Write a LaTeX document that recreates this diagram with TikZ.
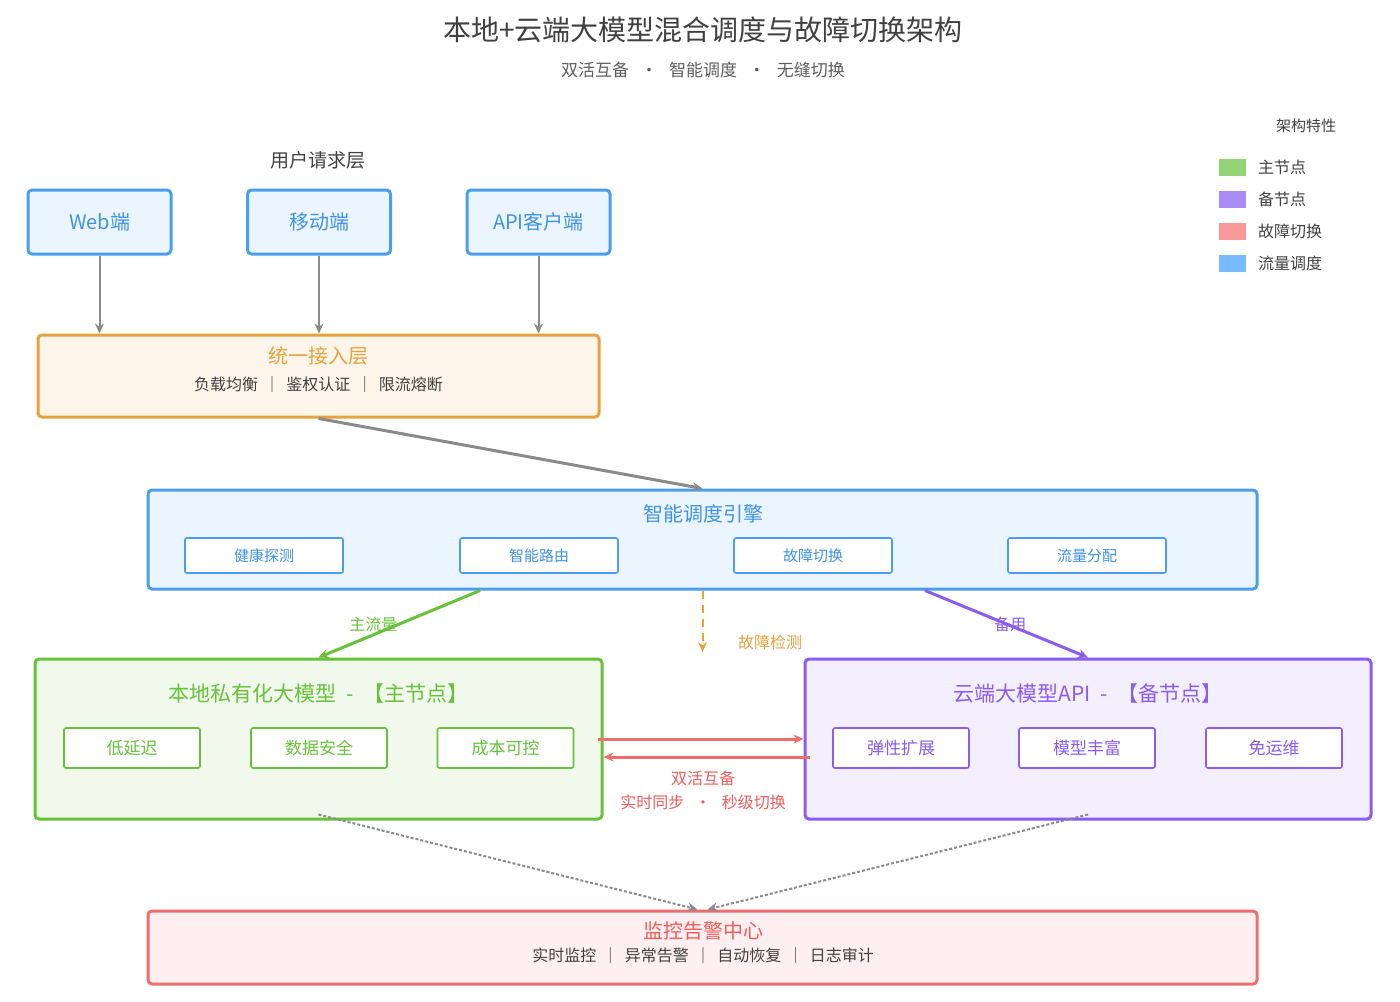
\documentclass[tikz,border=0pt]{standalone}
\usepackage{fontspec}
\newfontfamily\cjk{Noto Sans CJK SC}
\usetikzlibrary{calc,arrows.meta}
\definecolor{blueline}{RGB}{74,158,236}
\definecolor{bluefill}{RGB}{235,245,255}
\definecolor{bluetext}{RGB}{64,146,226}
\definecolor{orangeline}{RGB}{230,162,60}
\definecolor{orangefill}{RGB}{253,245,234}
\definecolor{greenline}{RGB}{103,194,58}
\definecolor{greenfill}{RGB}{240,249,235}
\definecolor{purpleline}{RGB}{138,92,240}
\definecolor{purplefill}{RGB}{244,239,255}
\definecolor{redline}{RGB}{238,110,110}
\definecolor{redfill}{RGB}{254,240,240}
\definecolor{redtext}{RGB}{240,92,92}
\definecolor{arrowgray}{RGB}{138,138,138}
\definecolor{darktext}{RGB}{64,64,64}
\tikzset{
  layer/.style={line width=1.5pt, rounded corners=2pt, inner sep=0pt},
  client/.style={layer, draw=blueline, fill=bluefill, minimum width=71.5pt, minimum height=32pt,
    text=bluetext, font=\cjk\fontsize{10}{12}\selectfont},
  item/.style={line width=0.8pt, rounded corners=1pt, fill=white, inner sep=0pt},
  headline/.style={font=\cjk\fontsize{10}{12}\selectfont},
  modelhead/.style={font=\cjk\fontsize{10.5}{12}\selectfont},
  subline/.style={font=\cjk\fontsize{8}{10}\selectfont, text=darktext},
  flow/.style={->, arrowgray, line width=1pt},
  swatch/.style={minimum width=13.5pt, minimum height=8.5pt, inner sep=0pt},
  keytext/.style={anchor=west, font=\cjk\fontsize{8}{10}\selectfont, text=darktext}
}
\begin{document}
\begin{tikzpicture}[x=0.5pt, y=-0.5pt, >={Stealth[length=5pt,width=4.5pt]}]
\useasboundingbox (0,0) rectangle (1400,1001);
% title
\node[font=\cjk\fontsize{14}{16}\selectfont, text=darktext] (title) at (703,30) {本地+云端大模型混合调度与故障切换架构};
\node[font=\cjk\fontsize{8.5}{10}\selectfont, text=darktext!85] (subtitle) at (703,70) {双活互备 \ \ · \ \ 智能调度 \ \ · \ \ 无缝切换};
% legend
\node[font=\cjk\fontsize{7.5}{9}\selectfont, text=darktext] (keyhead) at (1306,126) {架构特性};
\node[swatch, fill={rgb,255:red,149;green,212;blue,117}] (keymain) at (1232.5,167.5) {};
\node[keytext] at (1251,167.5) {主节点};
\node[swatch, fill={rgb,255:red,169;green,139;blue,245}] (keyback) at (1232.5,199.5) {};
\node[keytext] at (1251,199.5) {备节点};
\node[swatch, fill={rgb,255:red,248;green,152;blue,152}] (keyfail) at (1232.5,231) {};
\node[keytext] at (1251,231) {故障切换};
\node[swatch, fill={rgb,255:red,121;green,187;blue,255}] (keyflow) at (1232.5,263) {};
\node[keytext] at (1251,263) {流量调度};
% user request layer
\node[font=\cjk\fontsize{9.5}{11}\selectfont, text=darktext] (userhead) at (318,160) {用户请求层};
\node[client] (web) at (99.5,222) {Web端};
\node[client] (mobile) at (319,222) {移动端};
\node[client] (api) at (538.5,222) {API客户端};
% access layer
\node[layer, draw=orangeline, fill=orangefill, minimum width=280.5pt, minimum height=41pt] (access) at (318.5,376) {};
\node[headline, text=orangeline] (accesshead) at (318.5,356) {统一接入层};
\node[subline] (accesssub) at (318.5,384) {负载均衡 \,｜\, 鉴权认证 \,｜\, 限流熔断};
\draw[flow] (web.south) -- (web.south |- access.north);
\draw[flow] (mobile.south) -- (mobile.south |- access.north);
\draw[flow] (api.south) -- (api.south |- access.north);
% scheduling engine
\node[layer, draw=blueline, fill=bluefill, minimum width=554.5pt, minimum height=49.5pt] (engine) at (702.5,539.5) {};
\node[headline, text=bluetext] (enginehead) at (703,514) {智能调度引擎};
\foreach \x/\name/\txt in {264/probe/健康探测, 539/route/智能路由, 813/switch/故障切换, 1087/share/流量分配}
  \node[item, draw=blueline, minimum width=79pt, minimum height=17.5pt, text=bluetext,
    font=\cjk\fontsize{7.5}{9}\selectfont] (\name) at (\x,555.5) {\txt};
\draw[flow, line width=1.5pt] (access.south) -- (engine.north);
% local model (main node)
\node[layer, draw=greenline, fill=greenfill, minimum width=283.5pt, minimum height=80pt] (local) at (318.5,739) {};
\node[modelhead, text=greenline] (localhead) at (318.5,694) {本地私有化大模型 \ - \ 【主节点】};
\foreach \x/\name/\txt in {132/lowlat/低延迟, 319/datasafe/数据安全, 505.5/lowcost/成本可控}
  \node[item, draw=greenline, minimum width=68pt, minimum height=20pt, text=greenline,
    font=\cjk\fontsize{8.5}{10}\selectfont] (\name) at (\x,748) {\txt};
% cloud model (backup node)
\node[layer, draw=purpleline, fill=purplefill, minimum width=283pt, minimum height=80pt] (cloud) at (1088,739) {};
\node[modelhead, text=purpleline] (cloudhead) at (1088,694) {云端大模型API \ - \ 【备节点】};
\foreach \x/\name/\txt in {901/elastic/弹性扩展, 1087/models/模型丰富, 1274/noops/免运维}
  \node[item, draw=purpleline, minimum width=68pt, minimum height=20pt, text=purpleline,
    font=\cjk\fontsize{8.5}{10}\selectfont] (\name) at (\x,748) {\txt};
% engine to models
\draw[->, greenline, line width=1.5pt] ($(engine.south west)!0.3!(engine.south east)$) -- (local.north)
  node[pos=0.5, xshift=-13pt, font=\cjk\fontsize{8}{10}\selectfont] {主流量};
\draw[->, purpleline, line width=1.5pt] ($(engine.south west)!0.7!(engine.south east)$) -- (cloud.north)
  node[pos=0.5, xshift=2pt, font=\cjk\fontsize{8}{10}\selectfont] {备用};
\coordinate (detect) at (702.5,652);
\draw[->, orangeline, line width=1pt, dash pattern=on 4pt off 3pt] (engine.south) -- (detect)
  node[pos=0.85, right=14pt, font=\cjk\fontsize{8}{10}\selectfont] {故障检测};
% active-active sync
\draw[->, redline, line width=1.5pt] ([xshift=-3pt]local.east) -- (cloud.west);
\draw[->, redline, line width=1.5pt] ([yshift=-9pt, xshift=3pt]cloud.west) -- ([yshift=-9pt]local.east);
\node[font=\cjk\fontsize{8}{10}\selectfont, text=redtext] (synchead) at (703,778) {双活互备};
\node[font=\cjk\fontsize{8}{10}\selectfont, text=redtext] (syncsub) at (703,802) {实时同步 \ \ · \ \ 秒级切换};
% monitoring center
\node[layer, draw=redline, fill=redfill, minimum width=554.5pt, minimum height=36.5pt] (monitor) at (702.5,947.5) {};
\node[headline, text=redtext] (monitorhead) at (703,931) {监控告警中心};
\node[subline] (monitorsub) at (703,955) {实时监控 \,｜\, 异常告警 \,｜\, 自动恢复 \,｜\, 日志审计};
\draw[->, arrowgray, line width=1pt, dash pattern=on 1.5pt off 1pt] ([yshift=3pt]local.south) -- ([xshift=-2.5pt]monitor.north);
\draw[->, arrowgray, line width=1pt, dash pattern=on 1.5pt off 1pt] ([yshift=3pt]cloud.south) -- ([xshift=2.5pt]monitor.north);
\end{tikzpicture}
\end{document}
